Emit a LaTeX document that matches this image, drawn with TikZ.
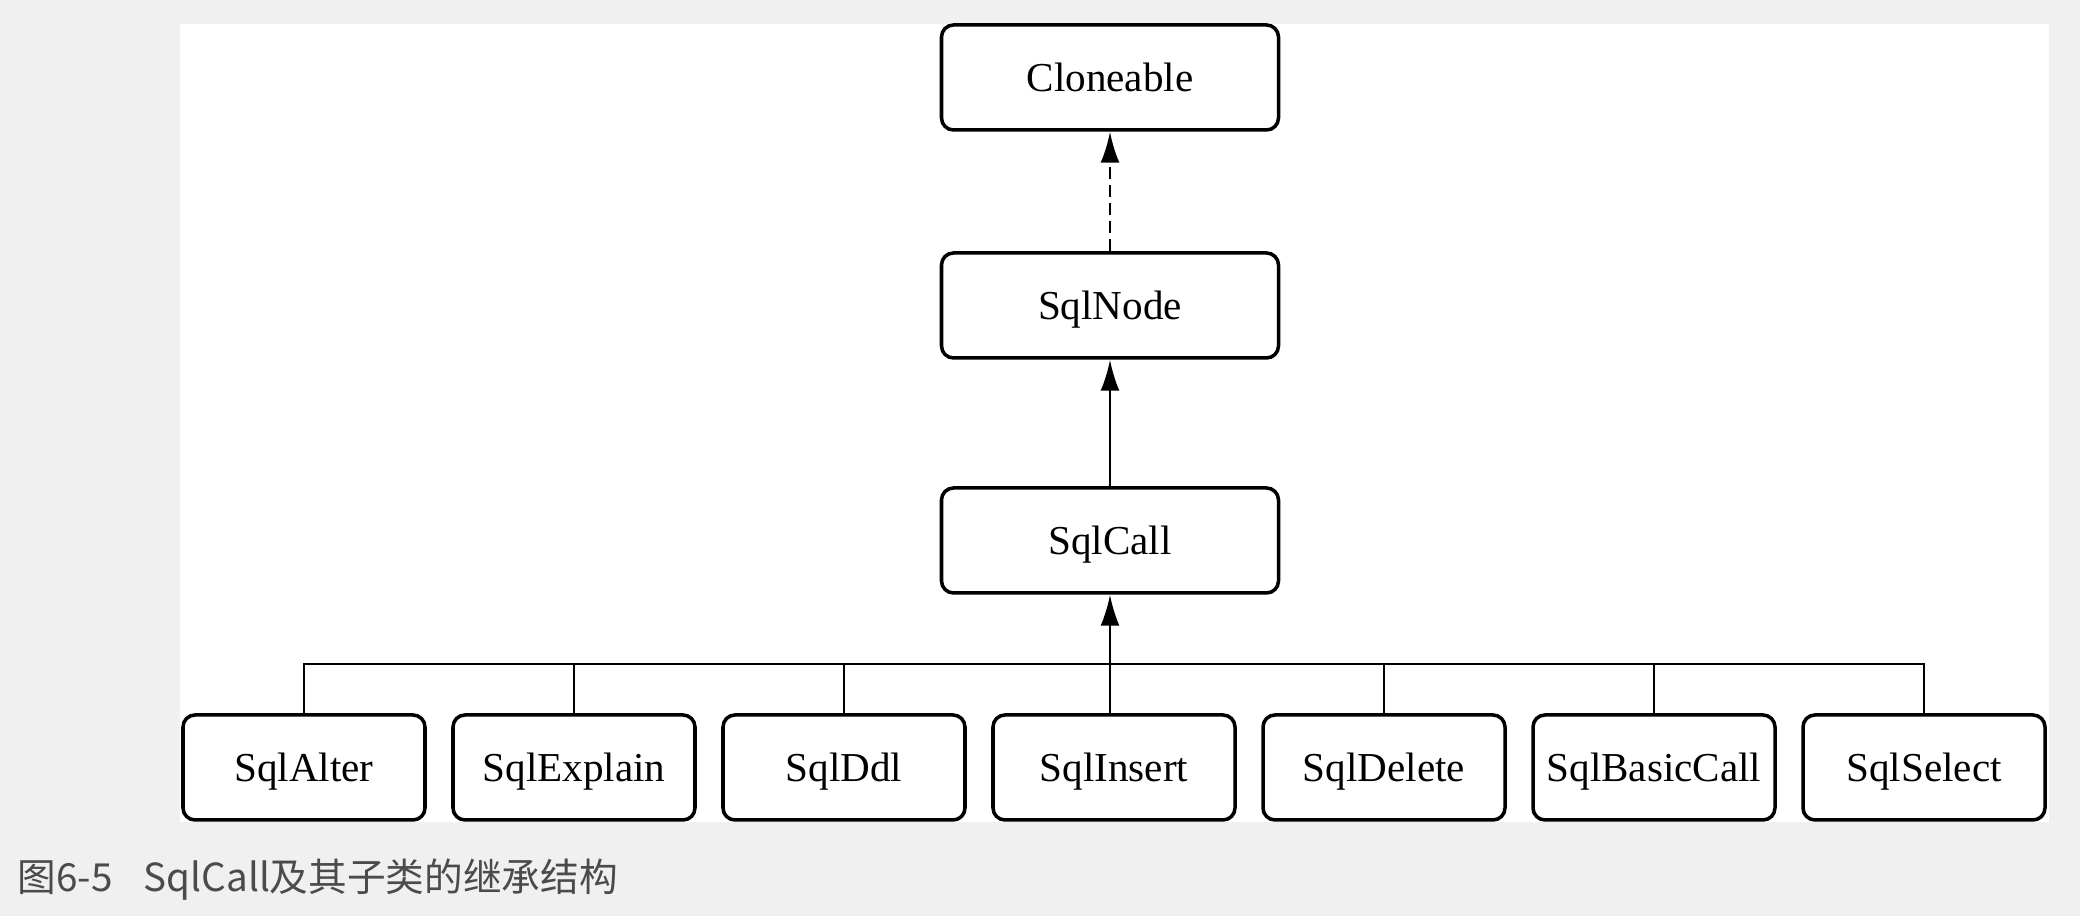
\documentclass[tikz,border=0pt]{standalone}
\usepackage{fontspec}
\setmainfont{Liberation Serif}
\newfontfamily\cjk{Noto Sans CJK SC}
\usepackage{tikz}
\usetikzlibrary{calc}
\usetikzlibrary{shapes,arrows.meta}
\definecolor{bggray}{RGB}{240,240,240}
\definecolor{capgray}{RGB}{75,75,75}

\begin{document}
\begin{tikzpicture}[>={Latex[length=3.1mm,width=1.9mm]},node distance=2.7cm,
  cls/.style={rectangle,draw,rounded corners=1.2mm,line width=1pt,minimum width=3.37cm,minimum height=1.05cm,text height=0.8em,text depth=0pt,font=\fontsize{11.7}{14}\selectfont},
  sub/.style={cls,minimum width=2.42cm},
  link/.style={line width=0.7pt}]
\useasboundingbox (0,0) rectangle (20.8,9.16);
\fill[bggray] (0,0) rectangle (20.8,9.16);
\fill[white] (1.8,0.94) rectangle (20.49,8.92);

\node[cls] (clone) at (11.1,8.385) {Cloneable};
\node[cls,below of = clone,yshift=.42cm] (sqlnode) {SqlNode};
\node[cls,below of = sqlnode,yshift=.35cm] (call) {SqlCall};
\node[sub,below of = call,yshift=.43cm,xshift=.04cm] (insert) {SqlInsert};
\node[sub,left of = insert] (ddl) {SqlDdl};
\node[sub,left of = ddl] (explain) {SqlExplain};
\node[sub,left of = explain] (alter) {SqlAlter};
\node[sub,right of = insert] (delete) {SqlDelete};
\node[sub,right of = delete] (basic) {SqlBasicCall};
\node[sub,right of = basic] (select) {SqlSelect};

\coordinate (bar) at ($(insert.north)+(0,.49)$);

\draw [link,->,dash pattern=on 1.2mm off .6mm] (sqlnode) -- (clone);
\draw [link,->] (call) -- (sqlnode);
\draw [link,->] (call.south |- insert.north) -- (call.south);
\draw [link] (alter.north) |- (bar) -| (select.north);
\foreach \n in {explain,ddl,delete,basic}
  \draw [link] (\n.north) -- (\n.north |- bar);

\node[anchor=west,inner sep=0pt,text=capgray,font=\cjk\fontsize{11}{13}\selectfont] (cap) at (0.17,0.36) {图6-5\hspace{0.8em}SqlCall及其子类的继承结构};
\end{tikzpicture}
\end{document}
